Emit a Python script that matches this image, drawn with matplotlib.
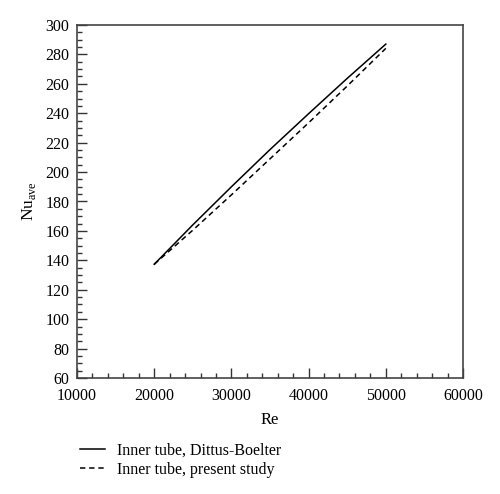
import matplotlib
matplotlib.use("Agg")
import matplotlib.pyplot as plt
from matplotlib.ticker import MultipleLocator

plt.rcParams['font.family'] = ['Liberation Serif', 'DejaVu Serif']
plt.rcParams['mathtext.fontset'] = 'custom'
plt.rcParams['mathtext.rm'] = 'Liberation Serif'

re_vals = [20000, 25000, 30000, 35000, 40000, 45000, 50000]
nu_dittus = [137.3, 164.1, 190.0, 215.3, 239.7, 263.7, 287.0]
nu_present = [137.3, 160.5, 184.5, 209.0, 233.5, 258.5, 284.1]
labels = ["Inner tube, Dittus-Boelter", "Inner tube, present study"]

fig = plt.figure(figsize=(5.0, 4.94), dpi=100)
ax = fig.add_axes([77/500, 1-378/494, (463-77)/500, (378-25)/494])

l1, = ax.plot(re_vals, nu_dittus, color='black', lw=1.1, ls='-')
l2, = ax.plot(re_vals, nu_present, color='black', lw=1.1, ls=(0, (3.5, 2.5)))

ax.set_xlim(10000, 60000)
ax.set_ylim(60, 300)
ax.xaxis.set_major_locator(MultipleLocator(10000))
ax.xaxis.set_minor_locator(MultipleLocator(2000))
ax.yaxis.set_major_locator(MultipleLocator(20))
ax.yaxis.set_minor_locator(MultipleLocator(5))
ax.tick_params(which='both', direction='in', top=False, right=False,
               colors='#333333', labelcolor='black', labelsize=11.5)
ax.tick_params(which='major', length=7, width=1.0)
ax.tick_params(axis='x', which='major', pad=7)
ax.tick_params(axis='y', which='major', pad=5.5)
ax.tick_params(which='minor', length=3.8, width=1.0)
for s in ax.spines.values():
    s.set_color('#444444')
    s.set_linewidth(1.2)

ax.set_xlabel("Re", fontsize=12, labelpad=6)
ax.set_ylabel(r"Nu$_{\mathrm{ave}}$", fontsize=12.5, labelpad=5)

fig.legend([l1, l2], labels, loc='upper left', bbox_to_anchor=(66/500, 1-428/494),
           frameon=False, fontsize=11.5, handlelength=1.55, handletextpad=0.75,
           labelspacing=0.22)

fig.savefig("out.png", dpi=100)
